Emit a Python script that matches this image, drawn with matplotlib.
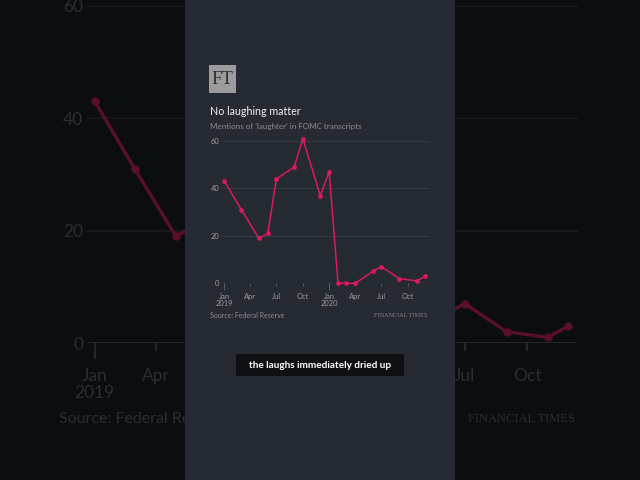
import matplotlib
matplotlib.use("Agg")
import matplotlib.pyplot as plt
from matplotlib.patches import Rectangle
import pandas as pd

# ---- data ----
dates = ["2019-01-01", "2019-03-01", "2019-05-01", "2019-06-01", "2019-07-01",
         "2019-09-01", "2019-10-01", "2019-12-01", "2020-01-01", "2020-02-01",
         "2020-03-01", "2020-04-01", "2020-06-01", "2020-07-01", "2020-09-01",
         "2020-11-01", "2020-12-01"]
mentions = [43, 31, 19, 21, 44, 49, 61, 37, 47, 0, 0, 0, 5, 7, 2, 1, 3]
tick_dates = ["2019-01-01", "2019-04-01", "2019-07-01", "2019-10-01",
              "2020-01-01", "2020-04-01", "2020-07-01", "2020-10-01"]
tick_labels = ["Jan\n2019", "Apr", "Jul", "Oct", "Jan\n2020", "Apr", "Jul", "Oct"]
year_ticks = ["2019-01-01", "2020-01-01"]
y_ticks = [0, 20, 40, 60]

title = "No laughing matter"
subtitle = "Mentions of 'laughter' in FOMC transcripts"
source = "Source: Federal Reserve"
caption = "the laughs immediately dried up"

W, H = 640, 480
x = pd.to_datetime(dates)
xt = pd.to_datetime(tick_dates)
xy = pd.to_datetime(year_ticks)
x_lo = pd.Timestamp("2018-12-22")
x_hi = pd.Timestamp("2020-12-14")

PANEL_L, PANEL_R = 185, 455


def fx(px):
    return px / W


def fy(py):
    return 1 - py / H


def axes_rect(left, right, top, bottom):
    return [fx(left), fy(bottom), fx(right) - fx(left), (bottom - top) / H]


fig = plt.figure(figsize=(6.4, 4.8), dpi=100, facecolor="#0c0d10")
SANS = ["Lato", "DejaVu Sans"]
SERIF = ["Liberation Serif", "DejaVu Serif"]


def style_axes(ax, scale, labels, line_c, grid_c, axis_c, tick_c, lw, ms,
               fs, tick_pad):
    ax.set_facecolor("none")
    ax.plot(x, mentions, color=line_c, lw=lw, marker="o", ms=ms,
            clip_on=False, zorder=3)
    ax.set_xlim(x_lo, x_hi)
    ax.set_ylim(0, 62)
    for s in ax.spines.values():
        s.set_visible(False)
    for v in y_ticks[1:]:
        ax.axhline(v, color=grid_c, lw=0.6 * scale, zorder=1, clip_on=False)
    ax.axhline(0, color=axis_c, lw=0.6 * scale, zorder=2)
    ax.set_yticks(y_ticks)
    ax.set_yticklabels([str(v) for v in y_ticks], fontfamily=SANS,
                       fontsize=fs, color=tick_c)
    ax.tick_params(axis="y", length=0, pad=1.5 * scale)
    ax.set_xticks(xt)
    ax.set_xticklabels(labels, fontfamily=SANS, fontsize=fs,
                       color=tick_c, linespacing=1.05)
    ax.xaxis.remove_overlapping_locs = False
    ax.set_xticks(xy, minor=True)
    ax.tick_params(axis="x", which="major", length=2.4 * scale,
                   width=0.6 * scale, color=axis_c, pad=tick_pad)
    ax.tick_params(axis="x", which="minor", length=4.8 * scale,
                   width=0.6 * scale, color=axis_c)


# ---- blurred, enlarged background chart ----
s = 2.37
bg_left, bg_right = 88, 577
ax_bg = fig.add_axes(axes_rect(bg_left, bg_right, 343 - 62 * 5.62, 343),
                     zorder=0)
# labels hidden behind the central panel are left blank
span = (x_hi - x_lo).days
bg_labels = []
for d, lab in zip(xt, tick_labels):
    px = bg_left + (d - x_lo).days / span * (bg_right - bg_left)
    bg_labels.append("" if PANEL_L < px < PANEL_R else lab)
style_axes(ax_bg, s, bg_labels, "#5a0f2b", "#17191d", "#25272b", "#2c2e32",
           2.4, 5, 12.5, 5.2 * s)
fig.text(fx(59), fy(419), source, fontfamily=SANS, fontsize=11.5,
         color="#2c2e32", ha="left", va="center", zorder=0)
fig.text(fx(575), fy(419), "FINANCIAL TIMES", fontfamily=SERIF,
         fontsize=9, color="#2c2e32", ha="right", va="center", zorder=0)

# ---- central panel ----
panel = fig.add_axes([fx(PANEL_L), 0, fx(PANEL_R) - fx(PANEL_L), 1], zorder=1)
panel.set_facecolor("#262a33")
panel.set_xticks([])
panel.set_yticks([])
for sp in panel.spines.values():
    sp.set_visible(False)

ax = fig.add_axes(axes_rect(221.6, 429, 283.3 - 62 * 2.372, 283.3), zorder=2)
style_axes(ax, 1.0, tick_labels, "#dc1a5e", "#3a3e48", "#60646c", "#9a9da4",
           1.1, 2.4, 5.4, 4.6)

# FT logo
fig.patches.append(Rectangle((fx(209), fy(93)), fx(236) - fx(209),
                             (93 - 65) / H, transform=fig.transFigure,
                             facecolor="#9c9c9c", edgecolor="none", zorder=3))
fig.text(fx(222.5), fy(79.5), "FT", fontfamily=SERIF, fontsize=13.5,
         color="#2e2e2e", ha="center", va="center", zorder=4)

fig.text(fx(210), fy(111.5), title, fontfamily=SANS, fontsize=7.7,
         color="#f2f2f2", ha="left", va="center", zorder=4)
fig.text(fx(210), fy(126.5), subtitle, fontfamily=SANS, fontsize=5.8,
         color="#8b8e95", ha="left", va="center", zorder=4)
fig.text(fx(210), fy(315.5), source, fontfamily=SANS, fontsize=5.0,
         color="#8b8e95", ha="left", va="center", zorder=4)
fig.text(fx(428), fy(315.5), "FINANCIAL TIMES", fontfamily=SERIF,
         fontsize=4.5, color="#80838a", ha="right", va="center", zorder=4)

# caption box
fig.patches.append(Rectangle((fx(236), fy(376)), fx(404) - fx(236),
                             (376 - 354) / H, transform=fig.transFigure,
                             facecolor="#0f1013", edgecolor="none", zorder=3))
fig.text(fx(320), fy(365), caption, fontfamily=SANS, fontsize=7.2,
         fontweight="bold", color="#ffffff", ha="center", va="center",
         zorder=4)

fig.savefig("out.png", dpi=100, facecolor=fig.get_facecolor())
